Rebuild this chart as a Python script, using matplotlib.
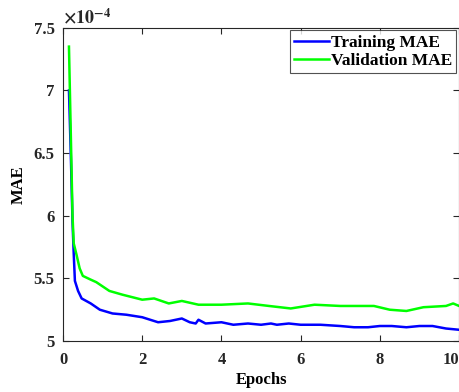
import matplotlib.pyplot as plt

# values, MAE in units of 1e-4
train_epochs = [0.15, 0.2, 0.24, 0.27, 0.3, 0.38, 0.47, 0.7, 0.93, 1.25, 1.6, 2.0, 2.2, 2.4,
                2.7, 3.0, 3.2, 3.35, 3.42, 3.6, 4.0, 4.3, 4.67, 5.0, 5.25, 5.4, 5.7, 6.0,
                6.5, 7.0, 7.35, 7.7, 8.0, 8.3, 8.67, 9.0, 9.33, 9.67, 10.0]
train_mae = [7.0, 6.45, 5.95, 5.7, 5.48, 5.40, 5.34, 5.30, 5.25, 5.22, 5.21, 5.19, 5.17, 5.15,
             5.16, 5.18, 5.15, 5.14, 5.17, 5.14, 5.15, 5.13, 5.14, 5.13, 5.14, 5.13, 5.14, 5.13,
             5.13, 5.12, 5.11, 5.11, 5.12, 5.12, 5.11, 5.12, 5.12, 5.10, 5.09]

val_epochs = [0.15, 0.2, 0.24, 0.27, 0.34, 0.42, 0.5, 0.7, 0.84, 1.17, 1.5, 2.0, 2.3, 2.67,
              3.0, 3.42, 4.0, 4.67, 5.2, 5.75, 6.35, 7.0, 7.85, 8.25, 8.67, 9.1, 9.67, 9.85, 10.0]
val_mae = [7.35, 6.6, 6.0, 5.78, 5.69, 5.58, 5.52, 5.49, 5.47, 5.40, 5.37, 5.33, 5.34, 5.30,
           5.32, 5.29, 5.29, 5.30, 5.28, 5.26, 5.29, 5.28, 5.28, 5.25, 5.24, 5.27, 5.28, 5.30, 5.28]

x_ticks = [0, 2, 4, 6, 8, 10]
y_ticks = [5, 5.5, 6, 6.5, 7, 7.5]

plt.rcParams['font.family'] = 'Liberation Serif'
plt.rcParams['font.weight'] = 'bold'
plt.rcParams['mathtext.fontset'] = 'stix'

fig = plt.figure(figsize=(4.6, 3.92), dpi=100)
ax = fig.add_axes([0.137, 0.130, 0.861, 0.799])

ax.plot(train_epochs, train_mae, color='#0000ff', lw=1.8, label='Training MAE')
ax.plot(val_epochs, val_mae, color='#00ff00', lw=1.8, label='Validation MAE')

ax.set_xlim(0, 10)
ax.set_ylim(5, 7.5)
ax.set_xticks(x_ticks)
ax.set_yticks(y_ticks)
ax.set_xticklabels([str(t) for t in x_ticks])
ax.set_yticklabels(['%g' % t for t in y_ticks])
ax.tick_params(direction='in', top=True, right=True, labelsize=12, length=4, width=0.8,
               colors='#262626')
ax.tick_params(axis='x', pad=8)
ax.tick_params(axis='y', pad=6)
for lab in ax.get_xticklabels() + ax.get_yticklabels():
    lab.set_fontweight('bold')
# keep the last x label inside the picture
ax.get_xticklabels()[-1].set_horizontalalignment('right')

ax.set_xlabel('Epochs', fontsize=12, fontweight='bold', labelpad=3)
ax.set_ylabel('MAE', fontsize=12, fontweight='bold', labelpad=5)
ax.text(0.0, 1.003, r'$\times10^{-4}$', transform=ax.transAxes, fontsize=13,
        ha='left', va='bottom', color='#262626', fontweight='normal')

leg = ax.legend(loc='upper right', fontsize=12.5, frameon=True, fancybox=False,
                borderaxespad=0.15, handlelength=2.0, handletextpad=0.1,
                borderpad=0.25, labelspacing=0.1)
leg.get_frame().set_edgecolor('#262626')
leg.get_frame().set_linewidth(0.8)
for t in leg.get_texts():
    t.set_fontweight('bold')

for s in ax.spines.values():
    s.set_color('#262626')
    s.set_linewidth(0.8)

fig.savefig('out.png', dpi=100)
